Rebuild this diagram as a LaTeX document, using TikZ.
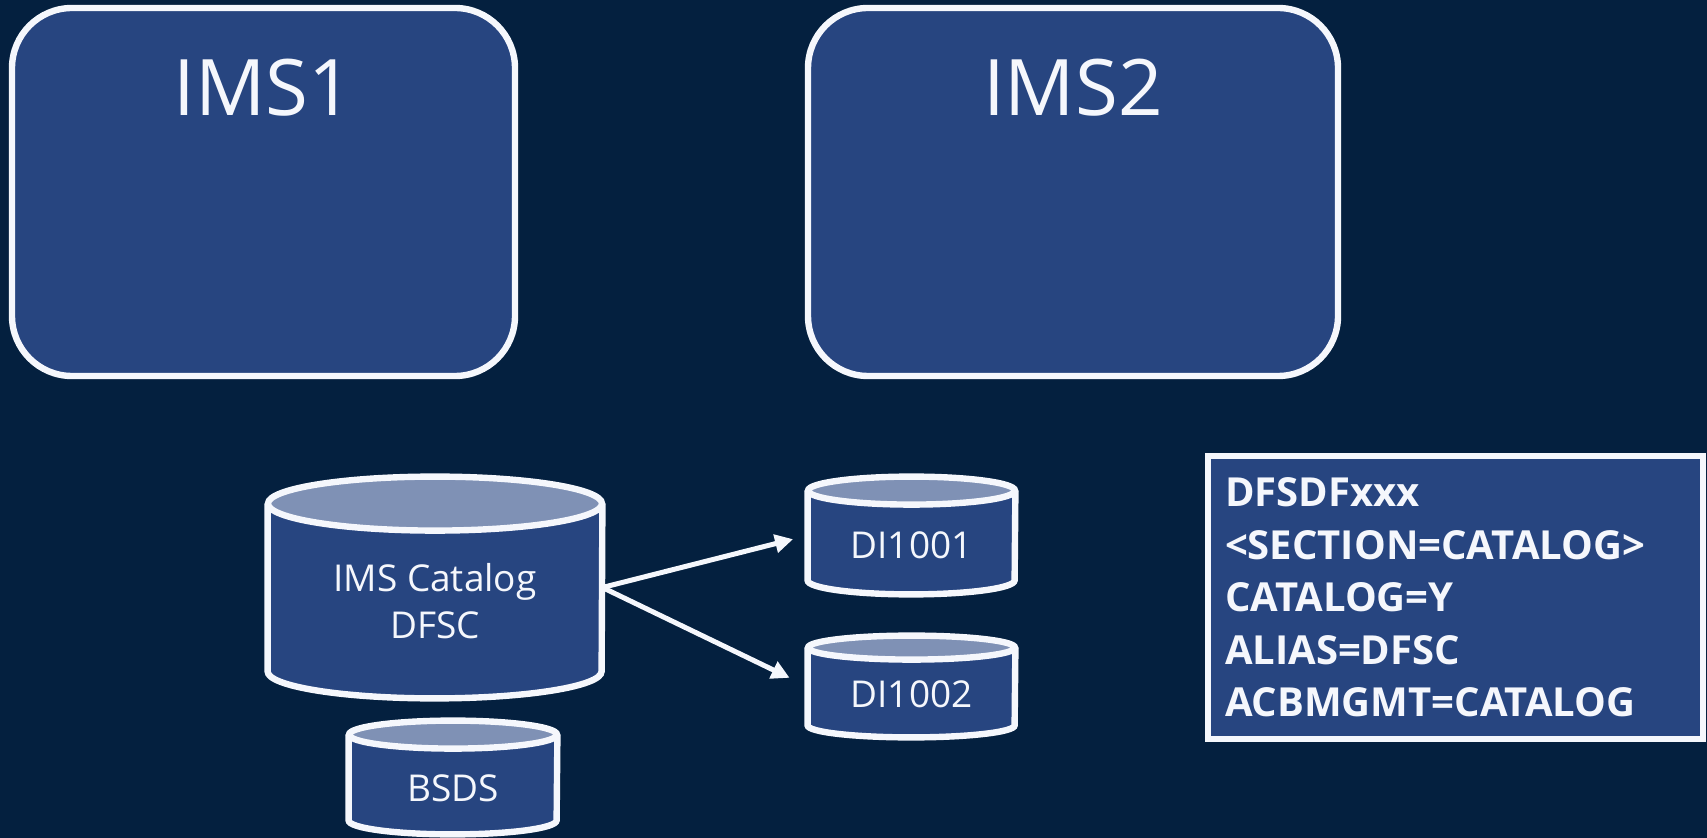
\documentclass[tikz,border=0pt]{standalone}
\usepackage{fontspec}
\setmainfont{Open Sans}
\usetikzlibrary{arrows.meta}
\usetikzlibrary{calc}
\usetikzlibrary{positioning}

\definecolor{bgnavy}{HTML}{04203F}
\definecolor{boxblue}{HTML}{274580}
\definecolor{disktop}{HTML}{7F91B5}
\definecolor{edgewhite}{HTML}{F5F7FC}

% body and lid of a disk, drawn round an empty frame node
\newcommand{\drawdisk}[3]{%
	\path[draw=edgewhite, line width=3.2pt, fill=boxblue]
		($(#1.north west)+(0,-#3)$) -- ($(#1.south west)+(0,#3)$)
		arc[start angle=180, end angle=360, x radius=#2, y radius=#3]
		-- ($(#1.north east)+(0,-#3)$);
	\path[draw=edgewhite, line width=3.2pt, fill=disktop]
		($(#1.north)+(0,-#3)$) ellipse[x radius=#2, y radius=#3];
}

\tikzset{
	title/.style={text=edgewhite, inner sep=0pt, font=\fontsize{39}{46}\selectfont},
	disklabel/.style={text=edgewhite, inner sep=0pt, align=center, font=\fontsize{18.5}{23.5}\selectfont}
}

\begin{document}
\begin{tikzpicture}[x=0.5pt, y=0.5pt]
	\path[use as bounding box, fill=bgnavy] (0,0) rectangle (1707,-838);

	\begin{scope}[every node/.style={draw=edgewhite, line width=3.2pt, fill=boxblue, inner sep=0pt}]
		\node[rounded corners=30pt, minimum width=251.5pt, minimum height=184pt] (ims1) at (263.5,-192) {};
		\node[rounded corners=30pt, minimum width=265pt, minimum height=184pt] (ims2) at (1073,-192) {};
		\node[minimum width=247.5pt, minimum height=141.5pt, text width=230.5pt, inner xsep=8.5pt,
		      align=left, text=edgewhite, font=\bfseries\fontsize{20}{26.25}\selectfont] (cfg) at (1455.5,-597.5)
		      {DFSDFxxx\\<SECTION=CATALOG>\\CATALOG=Y\\ALIAS=DFSC\\ACBMGMT=CATALOG};
	\end{scope}

	\node[title] (ims1name) at ([yshift=-41.5pt]ims1.north) {IMS1};
	\node[title] (ims2name) at ([yshift=-41.5pt]ims2.north) {IMS2};

	% disk frames
	\begin{scope}[every node/.style={inner sep=0pt}]
		\node[minimum width=167pt, minimum height=110.5pt] (cat) at (435,-587.5) {};
		\node[minimum width=103.5pt, minimum height=58.5pt] (d1) at (911.5,-535.5) {};
		\node[minimum width=103.5pt, minimum height=50.5pt] (d2) at (911.5,-686.5) {};
		\node[minimum width=104pt, minimum height=56.5pt] (bsds) at (453,-777.5) {};
	\end{scope}

	\foreach \n/\rx/\ry in {cat/167/27, d1/103.5/14, d2/103.5/12, bsds/104/14}
	{\drawdisk{\n}{\rx}{\ry}}

	\node[disklabel] (catname) at ([yshift=-7pt]cat.center) {IMS Catalog\\DFSC};
	\node[disklabel] (d1name) at ([yshift=-4.75pt]d1.center) {DI1001};
	\node[disklabel] (d2name) at ([yshift=-3.75pt]d2.center) {DI1002};
	\node[disklabel] (bsdsname) at ([yshift=-5.5pt]bsds.center) {BSDS};

	\begin{scope}[>={Triangle[length=9pt, width=9pt]},
	              every edge/.style={draw=edgewhite, line width=2.5pt, shorten >=7.5pt}]
		\path (cat.east) edge[->] (d1.west);
		\path (cat.east) edge[->, shorten >=10pt] (d2.west);
	\end{scope}
\end{tikzpicture}
\end{document}
